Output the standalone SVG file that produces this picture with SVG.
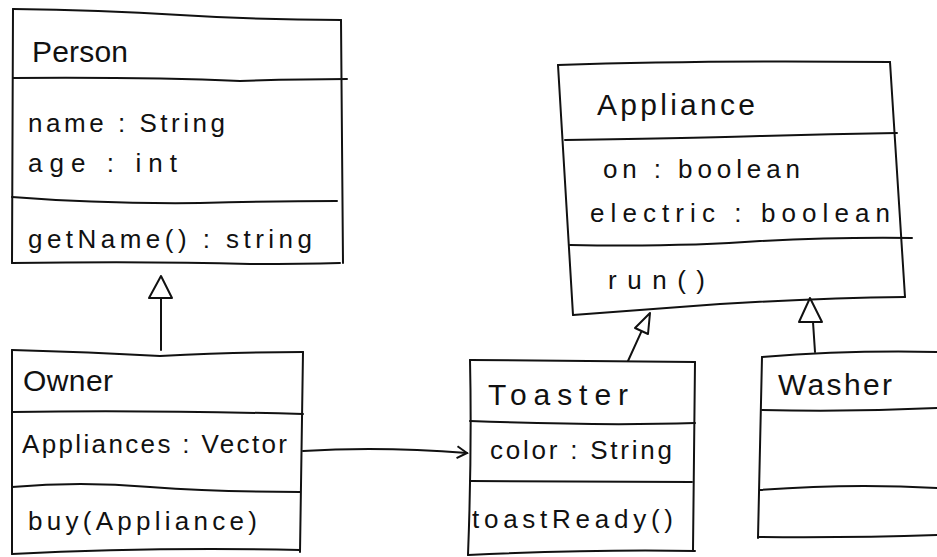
<svg xmlns="http://www.w3.org/2000/svg" width="937" height="557" viewBox="0 0 937 557">
<defs>
<style>
.ln{fill:none;stroke:#111;stroke-width:2;stroke-linecap:round;stroke-linejoin:round}
.tri{fill:#fff;stroke:#111;stroke-width:2;stroke-linejoin:round}
text{font-family:"Liberation Sans","DejaVu Sans",sans-serif;fill:#111;font-size:26px}
.t{font-size:30px}
</style>
<marker id="vee" markerWidth="14" markerHeight="14" refX="12" refY="7" orient="auto" markerUnits="userSpaceOnUse">
<path d="M2,1 L12,7 L2,13" fill="none" stroke="#111" stroke-width="2"/>
</marker>
</defs>
<rect width="937" height="557" fill="#fff"/>
<g id="connectors">
<path class="ln" d="M161,350 L161,298"/>
<polygon class="tri" points="161,276 149,298 172,298"/>
<path class="ln" d="M628,361 L641.6,331.2"/>
<polygon class="tri" points="650,313 648,334 635,328"/>
<path class="ln" d="M815,352 L813,322"/>
<polygon class="tri" points="810,298 799,322 822,322"/>
<path class="ln" d="M303,451 Q380,446 467,453" marker-end="url(#vee)"/>
</g>
<g id="Person">
<path class="ln" d="M13,9 Q100,10 180,15 Q260,20 341,20"/>
<path class="ln" d="M13,9 L12,263"/>
<path class="ln" d="M341,20 L343,263"/>
<path class="ln" d="M13,78 Q150,77 240,81 Q300,79 347,79"/>
<path class="ln" d="M12,197 Q100,204 200,203 Q280,201 337,201"/>
<path class="ln" d="M12,263 Q150,261 250,264 Q300,264 340,263"/>
<text class="t" x="32" y="62" textLength="96">Person</text>
<text x="28" y="132" textLength="197">name : String</text>
<text x="28" y="172" textLength="149">age : int</text>
<text x="28" y="248" textLength="284">getName() : string</text>
</g>
<g id="Owner">
<path class="ln" d="M12,350 Q90,352 160,356 Q240,352 303,352"/>
<path class="ln" d="M12,350 L12,554"/>
<path class="ln" d="M303,352 L300,552"/>
<path class="ln" d="M12,412 Q150,410 303,414"/>
<path class="ln" d="M12,487 Q80,481 150,487 Q220,492 300,492"/>
<path class="ln" d="M12,554 Q150,547 300,550"/>
<text class="t" x="23" y="391" textLength="90">Owner</text>
<text x="22" y="453" textLength="265">Appliances : Vector</text>
<text x="28" y="530" textLength="229">buy(Appliance)</text>
</g>
<g id="Appliance">
<path class="ln" d="M558,65 Q700,60 890,62"/>
<path class="ln" d="M558,65 L573,315"/>
<path class="ln" d="M890,62 L905,297"/>
<path class="ln" d="M565,140 Q700,138 760,136 Q830,134 897,133"/>
<path class="ln" d="M570,245 Q680,247 760,241 Q840,237 912,238"/>
<path class="ln" d="M573,315 Q650,309 720,304 Q820,298 905,297"/>
<text class="t" x="597" y="115" textLength="158">Appliance</text>
<text x="603" y="178" textLength="197">on : boolean</text>
<text x="590" y="222" textLength="300">electric : boolean</text>
<text x="608" y="289" textLength="97">run()</text>
</g>
<g id="Toaster">
<path class="ln" d="M470,360 L695,362"/>
<path class="ln" d="M470,360 Q472,450 468,555"/>
<path class="ln" d="M695,362 L693,550"/>
<path class="ln" d="M470,421 Q600,426 695,423"/>
<path class="ln" d="M470,481 L692,482"/>
<path class="ln" d="M468,555 Q600,549 695,551"/>
<text class="t" x="488" y="405" textLength="140">Toaster</text>
<text x="490" y="459" textLength="182">color : String</text>
<text x="472" y="528" textLength="201">toastReady()</text>
</g>
<g id="Washer">
<path class="ln" d="M762,357 Q850,350 937,352"/>
<path class="ln" d="M762,357 L758,538"/>
<path class="ln" d="M762,410 Q850,412 937,408"/>
<path class="ln" d="M760,490 Q850,483 937,488"/>
<path class="ln" d="M758,537 Q850,538 937,535"/>
<text class="t" x="778" y="395" textLength="114">Washer</text>
</g>
</svg>
